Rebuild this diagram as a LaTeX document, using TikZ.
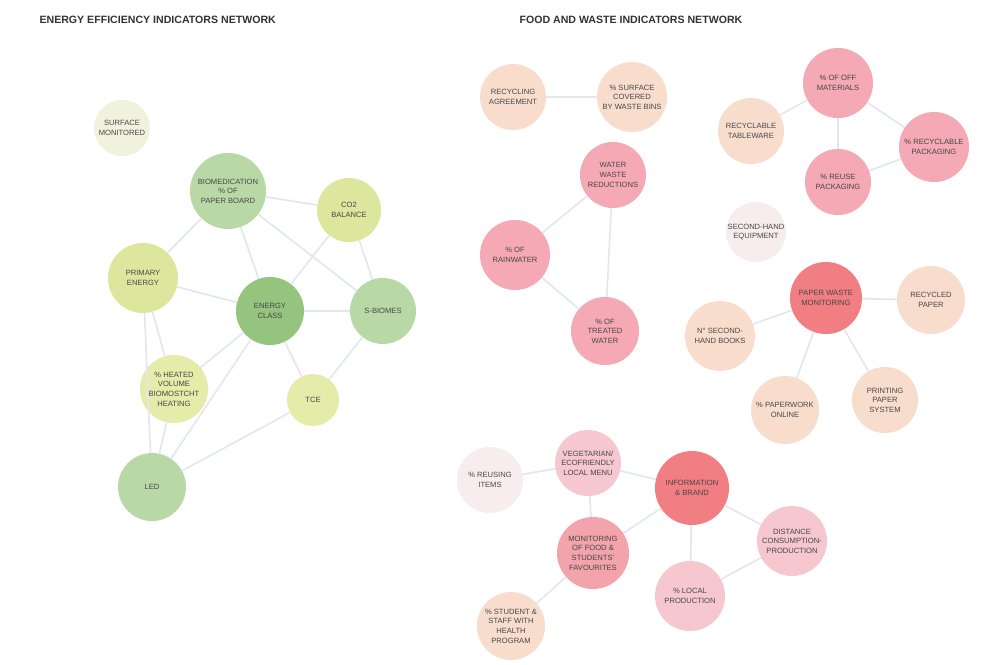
\documentclass[tikz,border=0pt]{standalone}
\usepackage{fontspec}
\setsansfont{Liberation Sans}
\begin{document}
\begin{tikzpicture}[x=1pt,y=-1pt]
\tikzset{
  bub/.style={circle, inner sep=0pt, minimum size=#1, align=center,
    font=\sffamily\fontsize{7.6}{9.6}\selectfont, text=black!72},
  link/.style={draw=linkc, line width=1.6pt},
  linkp/.style={draw=linkpink, line width=1.6pt},
  ttl/.style={font=\sffamily\bfseries\fontsize{10.6}{12}\selectfont, text=black!80, anchor=west}
}
\definecolor{linkc}{HTML}{E2E6EE}
\definecolor{linkpink}{HTML}{F6DDE6}
% energy palette
\definecolor{paleyg}{HTML}{F1F2DE}
\definecolor{lgreen}{HTML}{B8D9A6}
\definecolor{ygreen}{HTML}{DCE69C}
\definecolor{mgreen}{HTML}{95C47E}
\definecolor{pyellow}{HTML}{E5EBA8}
% food and waste palette
\definecolor{peach}{HTML}{F8DDCD}
\definecolor{pinkn}{HTML}{F4A9B4}
\definecolor{coral}{HTML}{F07E82}
\definecolor{lpink}{HTML}{F6C7CF}
\definecolor{palep}{HTML}{F8EDEE}

\useasboundingbox[fill=white] (0,0) rectangle (985,664);

% titles
\node[ttl] (t1) at (36,20) {ENERGY EFFICIENCY INDICATORS NETWORK};
\node[ttl] (t2) at (516,20) {FOOD AND WASTE INDICATORS NETWORK};

% ---------- energy efficiency network ----------
\node[bub=56, fill=paleyg] (surf) at (122,128) {SURFACE\\MONITORED};
\node[bub=76, fill=lgreen] (biom) at (228,191) {BIOMEDICATION\\\% OF\\PAPER BOARD};
\node[bub=64, fill=ygreen] (co2) at (349,210) {CO2\\BALANCE};
\node[bub=70, fill=ygreen] (prim) at (143,278) {PRIMARY\\ENERGY};
\node[bub=68, fill=mgreen] (ecl) at (270,311) {ENERGY\\CLASS};
\node[bub=66, fill=lgreen] (sbio) at (383,311) {S-BIOMES};
\node[bub=68, fill=pyellow] (heat) at (174,389) {\% HEATED\\VOLUME\\BIOMOSTCHT\\HEATING};
\node[bub=52, fill=pyellow] (tce) at (313,400) {TCE};
\node[bub=68, fill=lgreen] (led) at (152,487) {LED};

\draw[link] (biom) -- (co2);
\draw[link] (biom) -- (prim);
\draw[link] (biom) -- (ecl);
\draw[link] (biom) -- (sbio);
\draw[link] (co2) -- (ecl);
\draw[link] (co2) -- (sbio);
\draw[link] (prim) -- (ecl);
\draw[link] (prim) -- (heat);
\draw[link] (prim) -- (led);
\draw[link] (ecl) -- (sbio);
\draw[linkp] (ecl) -- (tce);
\draw[link] (ecl) -- (heat);
\draw[link] (ecl) -- (led);
\draw[link] (sbio) -- (tce);
\draw[link] (heat) -- (led);
\draw[link] (tce) -- (led);

% ---------- food and waste network ----------
\node[bub=66, fill=peach] (ragr) at (513,97) {RECYCLING\\AGREEMENT};
\node[bub=70, fill=peach] (scov) at (632,97) {\% SURFACE\\COVERED\\BY WASTE BINS};
\draw[link] (ragr) -- (scov);

\node[bub=70, fill=pinkn] (off) at (838,83) {\% OF OFF\\MATERIALS};
\node[bub=66, fill=peach] (tabw) at (751,131) {RECYCLABLE\\TABLEWARE};
\node[bub=70, fill=pinkn] (rpack) at (934,147) {\% RECYCLABLE\\PACKAGING};
\node[bub=66, fill=pinkn] (reuse) at (838,182) {\% REUSE\\PACKAGING};
\draw[link] (off) -- (tabw);
\draw[link] (off) -- (reuse);
\draw[link] (off) -- (rpack);
\draw[link] (reuse) -- (rpack);

\node[bub=66, fill=pinkn] (water) at (613,175) {WATER\\WASTE\\REDUCTIONS};
\node[bub=70, fill=pinkn] (rain) at (515,255) {\% OF\\RAINWATER};
\node[bub=68, fill=pinkn] (treat) at (605,331) {\% OF\\TREATED\\WATER};
\draw[link] (water) -- (rain);
\draw[link] (water) -- (treat);
\draw[link] (rain) -- (treat);

\node[bub=60, fill=palep] (shand) at (756,232) {SECOND-HAND\\EQUIPMENT};
\node[bub=72, fill=coral] (pwaste) at (826,298) {PAPER WASTE\\MONITORING};
\node[bub=68, fill=peach] (rpaper) at (931,300) {RECYCLED\\PAPER};
\node[bub=70, fill=peach] (books) at (720,336) {N\textdegree{} SECOND-\\HAND BOOKS};
\node[bub=68, fill=peach] (pwork) at (785,410) {\% PAPERWORK\\ONLINE};
\node[bub=66, fill=peach] (print) at (885,400) {PRINTING\\PAPER\\SYSTEM};
\draw[link] (pwaste) -- (rpaper);
\draw[link] (pwaste) -- (books);
\draw[link] (pwaste) -- (pwork);
\draw[link] (pwaste) -- (print);

\node[bub=66, fill=palep] (reusing) at (490,480) {\% REUSING\\ITEMS};
\node[bub=66, fill=lpink] (veg) at (588,463) {VEGETARIAN/\\ECOFRIENDLY\\LOCAL MENU};
\node[bub=74, fill=coral] (info) at (692,488) {INFORMATION\\\& BRAND};
\node[bub=72, fill=pinkn!85!coral] (mon) at (593,553) {MONITORING\\OF FOOD \&\\STUDENTS'\\FAVOURITES};
\node[bub=70, fill=lpink] (dist) at (792,541) {DISTANCE\\CONSUMPTION-\\PRODUCTION};
\node[bub=70, fill=lpink] (local) at (690,596) {\% LOCAL\\PRODUCTION};
\node[bub=68, fill=peach] (stud) at (511,626) {\% STUDENT \&\\STAFF WITH\\HEALTH\\PROGRAM};
\draw[link] (reusing) -- (veg);
\draw[link] (veg) -- (info);
\draw[link] (veg) -- (mon);
\draw[link] (info) -- (mon);
\draw[link] (info) -- (dist);
\draw[link] (info) -- (local);
\draw[link] (local) -- (dist);
\draw[link] (mon) -- (stud);
\end{tikzpicture}
\end{document}
